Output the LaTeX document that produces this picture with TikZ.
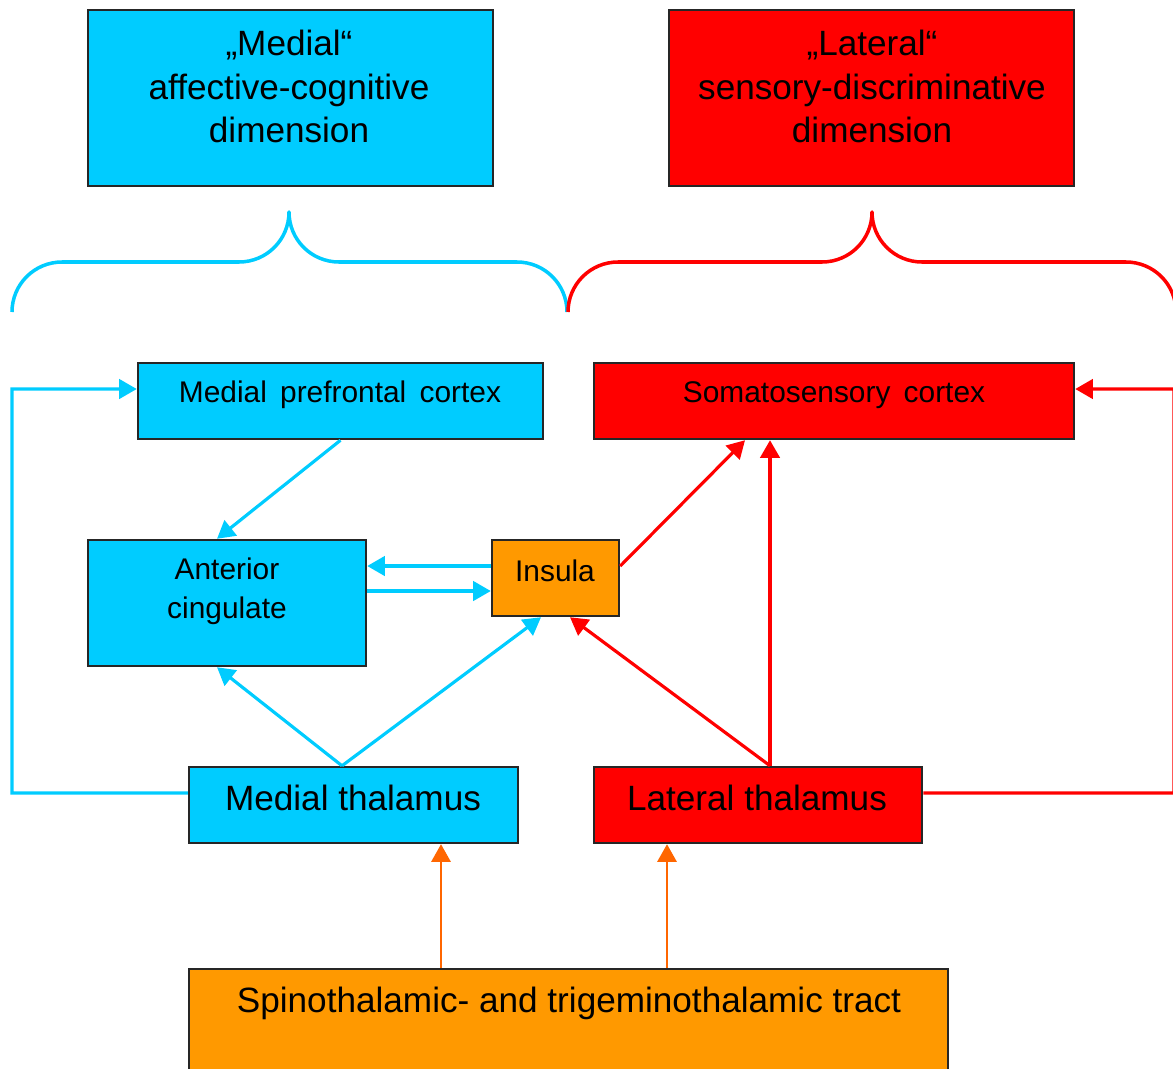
\documentclass[tikz,border=0pt]{standalone}
\usepackage{fontspec}
\setmainfont{Liberation Sans}
\usetikzlibrary{arrows.meta}
\definecolor{medblue}{HTML}{00CCFF}
\definecolor{latred}{HTML}{FF0000}
\definecolor{insorange}{HTML}{FF9900}
\definecolor{tractorange}{HTML}{FF6600}
\tikzset{
  box/.style={draw=black!85, line width=0.7pt, rectangle, inner sep=0pt},
  bigtxt/.style={font=\fontsize{10}{12.4}\selectfont, align=center, inner sep=0pt},
  smalltxt/.style={font=\fontsize{8.5}{11.1}\selectfont, align=center, inner sep=0pt},
  brace/.style={line width=1pt, line join=round},
  link/.style={line width=0.9pt, -{Triangle[length=5pt,width=5.5pt]}},
}
\begin{document}
\begin{tikzpicture}
        \clip (0,0) rectangle (11.73,-10.68);
        % Dimensions
        % Define the nodes
        \node[box, fill=medblue, minimum width=4.05cm, minimum height=1.76cm] (medial) at (2.905,-0.98) {};
        \node[bigtxt] (medialT) at (2.89,-0.865) {„Medial“\\affective-cognitive\\dimension};
        \node[box, fill=latred, minimum width=4.05cm, minimum height=1.76cm] (lateral) at (8.715,-0.98) {};
        \node[bigtxt] (lateralT) at (8.72,-0.865) {„Lateral“\\sensory-discriminative\\dimension};

        % Braces
        \draw[brace, medblue] (0.12,-3.12) arc[start angle=180, end angle=90, radius=0.5] -- (2.39,-2.62)
            arc[start angle=270, end angle=360, radius=0.5] arc[start angle=180, end angle=270, radius=0.5]
            -- (5.17,-2.62) arc[start angle=90, end angle=0, radius=0.5];
        \draw[brace, latred] (5.68,-3.12) arc[start angle=180, end angle=90, radius=0.5] -- (8.22,-2.62)
            arc[start angle=270, end angle=360, radius=0.5] arc[start angle=180, end angle=270, radius=0.5]
            -- (11.26,-2.62) arc[start angle=90, end angle=0, radius=0.5];

        % Regions
        % Define the nodes
        \node[box, fill=medblue, minimum width=4.05cm, minimum height=0.76cm] (mpc) at (3.405,-4.01) {};
        \node[smalltxt] (mpcT) at (3.40,-3.95) {Medial\ \,prefrontal\ \,cortex};
        \node[box, fill=latred, minimum width=4.80cm, minimum height=0.76cm] (ssc) at (8.34,-4.01) {};
        \node[smalltxt] (sscT) at (8.34,-3.95) {Somatosensory\ \,cortex};
        \node[box, fill=medblue, minimum width=2.78cm, minimum height=1.26cm] (acc) at (2.27,-6.03) {};
        \node[smalltxt] (accT) at (2.27,-5.91) {Anterior\\cingulate};
        \node[box, fill=insorange, minimum width=1.27cm, minimum height=0.76cm] (ins) at (5.555,-5.78) {};
        \node[smalltxt] (insT) at (5.55,-5.71) {Insula};
        \node[box, fill=medblue, minimum width=3.29cm, minimum height=0.76cm] (mth) at (3.535,-8.05) {};
        \node[bigtxt] (mthT) at (3.53,-7.98) {Medial thalamus};
        \node[box, fill=latred, minimum width=3.28cm, minimum height=0.76cm] (lth) at (7.58,-8.05) {};
        \node[bigtxt] (lthT) at (7.57,-7.98) {Lateral thalamus};
        \node[box, fill=insorange, minimum width=7.59cm, minimum height=1.30cm] (tract) at (5.685,-10.34) {};
        \node[bigtxt] (tractT) at (5.69,-10.03) {Spinothalamic- and trigeminothalamic tract};

        % Connect the nodes
        \coordinate (loopL) at (0.12,-3.89);
        \coordinate (loopR) at (11.74,-3.89);
        \draw[link, medblue] ([yshift=1.2mm]mth.west) -| (loopL) -- ([yshift=1.2mm]mpc.west);
        \draw[link, medblue] (mpc.south) -- ([xshift=-1mm]acc.north);
        \draw[link, medblue] ([yshift=1.2mm]ins.west) -- ([yshift=1.2mm]ins.west -| acc.east);
        \draw[link, medblue] ([yshift=-1.3mm]ins.west -| acc.east) -- ([yshift=-1.3mm]ins.west);
        \draw[link, medblue] ([xshift=-1.15mm]mth.north) -- ([xshift=-1mm]acc.south);
        \draw[link, medblue] ([xshift=-1.15mm]mth.north) -- ([xshift=-1.45mm]ins.south);

        \draw[link, latred] ([yshift=1.2mm]ins.east) -- ([xshift=-8.9mm]ssc.south);
        \draw[link, latred] ([xshift=1.2mm]lth.north) -- ([xshift=1.2mm]lth.north |- ssc.south);
        \draw[link, latred] ([xshift=1.2mm]lth.north) -- ([xshift=1.45mm]ins.south);
        \draw[link, latred] ([yshift=1.2mm]lth.east) -| (loopR) -- ([yshift=1.2mm]ssc.east);

        \draw[link, tractorange, line width=0.5pt] ([xshift=-12.75mm]tract.north) -- ([xshift=-12.75mm]tract.north |- mth.south);
        \draw[link, tractorange, line width=0.5pt] ([xshift=9.85mm]tract.north) -- ([xshift=9.85mm]tract.north |- lth.south);
    \end{tikzpicture}
\end{document}
